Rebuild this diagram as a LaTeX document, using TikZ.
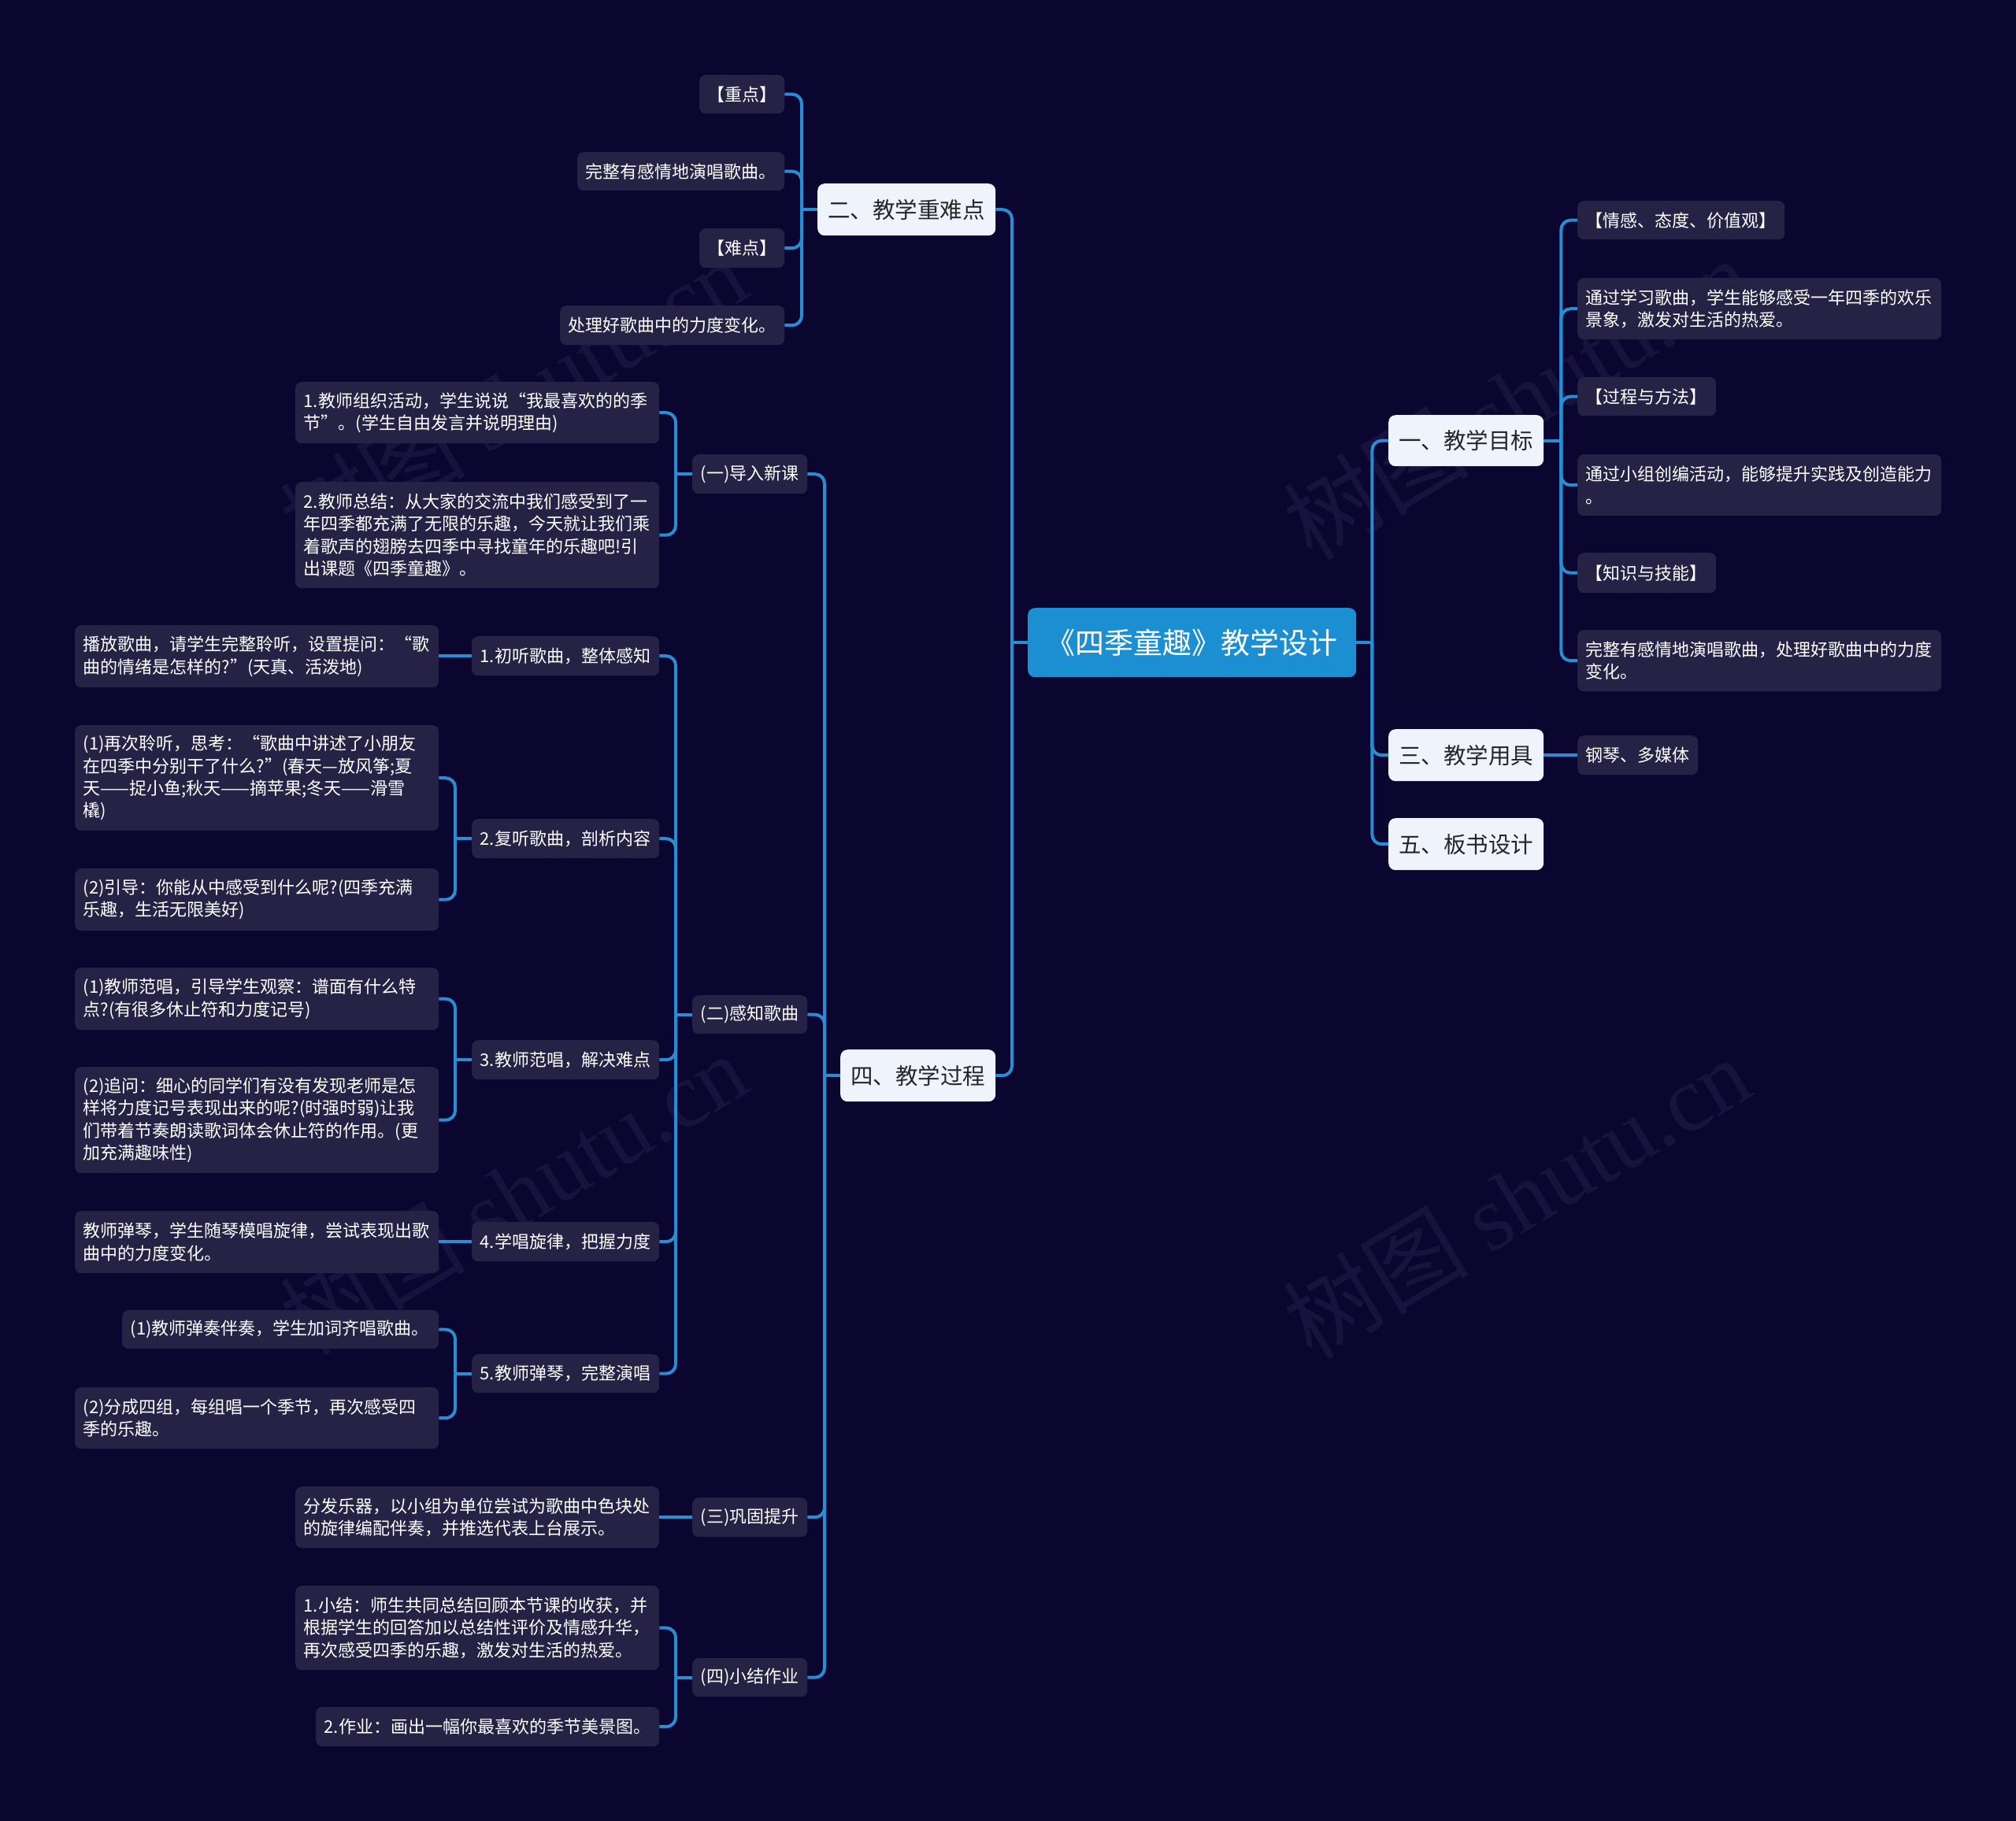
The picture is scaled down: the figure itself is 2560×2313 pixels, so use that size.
\documentclass[tikz,border=0pt]{standalone}
\usepackage{fontspec}
\setmainfont{Noto Sans CJK SC}
\newfontfamily\wmserif{Liberation Serif}
\definecolor{bg}{HTML}{0A0630}
\definecolor{leafc}{HTML}{262246}
\definecolor{lonec}{HTML}{EEF3FC}
\definecolor{rootc}{HTML}{1C8FD2}
\definecolor{linec}{HTML}{2A8DD4}
\definecolor{wmc}{HTML}{16133E}
\tikzset{
  leaf/.style={fill=leafc, rounded corners=8pt, text=white, inner xsep=10.5pt, inner ysep=0pt,
    align=left, font=\fontsize{22}{28.3}\selectfont, anchor=north west},
  lone/.style={fill=lonec, rounded corners=9pt, text=black!85, inner sep=0pt,
    align=center, font=\fontsize{28.5}{34}\selectfont, anchor=north west},
  rootbox/.style={fill=rootc, rounded corners=9pt, text=white, inner sep=0pt,
    align=center, font=\fontsize{37}{44}\selectfont, anchor=north west},
  conn/.style={draw=linec, line width=4pt, rounded corners=12pt},
  wmark/.style={text=wmc, rotate=31, font=\fontsize{118}{130}\selectfont, inner sep=0pt}
}
\newcommand\leafbox[6]{%
  \pgfmathsetmacro\bw{#4-#2}\pgfmathsetmacro\bh{#5-#3}\pgfmathsetmacro\tw{#4-#2-21}%
  \node[leaf, minimum width=\bw pt, minimum height=\bh pt, text width=\tw pt] (#1) at (#2,#3) {#6};}
\newcommand\lonebox[6]{%
  \pgfmathsetmacro\bw{#4-#2}\pgfmathsetmacro\bh{#5-#3}%
  \node[lone, minimum width=\bw pt, minimum height=\bh pt] (#1) at (#2,#3) {#6};}
\begin{document}
\begin{tikzpicture}[x=1pt, y=-1pt]
\useasboundingbox (0,0) rectangle (2560,2313);
\fill[bg] (0,0) rectangle (2560,2313);

% watermarks
\node[wmark] (wm1) at (652,505) {树图 {\wmserif shutu.cn}};
\node[wmark] (wm2) at (1926,505) {树图 {\wmserif shutu.cn}};
\node[wmark] (wm3) at (652,1515) {树图 {\wmserif shutu.cn}};
\node[wmark] (wm4) at (1926,1520) {树图 {\wmserif shutu.cn}};

% root
\node[rootbox, minimum width=417pt, minimum height=88pt] (root) at (1305,772) {《四季童趣》教学设计};

% level 1
\lonebox{n2}{1038}{233}{1264}{299}{二、教学重难点}
\lonebox{n4}{1067}{1333}{1264}{1399}{四、教学过程}
\lonebox{n1}{1763}{527}{1960}{592}{一、教学目标}
\lonebox{n3}{1763}{926}{1960}{992}{三、教学用具}
\lonebox{n5}{1763}{1039}{1960}{1105}{五、板书设计}

% children of n2
\leafbox{k1}{888}{95}{996}{144}{【重点】}
\leafbox{k2}{733}{193}{996}{242}{完整有感情地演唱歌曲。}
\leafbox{k3}{888}{290}{996}{340}{【难点】}
\leafbox{k4}{711}{388}{996}{438}{处理好歌曲中的力度变化。}

% children of n1
\leafbox{g1}{2003}{255}{2266}{304}{【情感、态度、价值观】}
\leafbox{g2}{2003}{353}{2465}{431}{通过学习歌曲，学生能够感受一年四季的欢乐\\景象，激发对生活的热爱。}
\leafbox{g3}{2003}{479}{2179}{528}{【过程与方法】}
\leafbox{g4}{2003}{577}{2465}{655}{通过小组创编活动，能够提升实践及创造能力\\。}
\leafbox{g5}{2003}{702}{2179}{753}{【知识与技能】}
\leafbox{g6}{2003}{800}{2465}{878}{完整有感情地演唱歌曲，处理好歌曲中的力度\\变化。}

% child of n3
\leafbox{t1}{2003}{934}{2156}{984}{钢琴、多媒体}

% children of n4
\leafbox{s1}{879}{577}{1025}{627}{(一)导入新课}
\leafbox{s2}{879}{1264}{1025}{1313}{(二)感知歌曲}
\leafbox{s3}{879}{1902}{1025}{1952}{(三)巩固提升}
\leafbox{s4}{879}{2106}{1025}{2155}{(四)小结作业}

% children of s1
\leafbox{s1a}{375}{485}{837}{563}{1.教师组织活动，学生说说“我最喜欢的的季\\节”。(学生自由发言并说明理由)}
\leafbox{s1b}{375}{612}{837}{747}{2.教师总结：从大家的交流中我们感受到了一\\年四季都充满了无限的乐趣，今天就让我们乘\\着歌声的翅膀去四季中寻找童年的乐趣吧!引\\出课题《四季童趣》。}

% children of s2
\leafbox{p1}{599}{808}{837}{858}{1.初听歌曲，整体感知}
\leafbox{p2}{599}{1040}{837}{1090}{2.复听歌曲，剖析内容}
\leafbox{p3}{599}{1321}{837}{1371}{3.教师范唱，解决难点}
\leafbox{p4}{599}{1552}{837}{1602}{4.学唱旋律，把握力度}
\leafbox{p5}{599}{1720}{837}{1769}{5.教师弹琴，完整演唱}

\leafbox{p1a}{95}{794}{557}{873}{播放歌曲，请学生完整聆听，设置提问：“歌\\曲的情绪是怎样的?”(天真、活泼地)}
\leafbox{p2a}{95}{921}{557}{1055}{(1)再次聆听，思考：“歌曲中讲述了小朋友\\在四季中分别干了什么?”(春天—放风筝;夏\\天——捉小鱼;秋天——摘苹果;冬天——滑雪\\橇)}
\leafbox{p2b}{95}{1103}{557}{1182}{(2)引导：你能从中感受到什么呢?(四季充满\\乐趣，生活无限美好)}
\leafbox{p3a}{95}{1229}{557}{1308}{(1)教师范唱，引导学生观察：谱面有什么特\\点?(有很多休止符和力度记号)}
\leafbox{p3b}{95}{1355}{557}{1490}{(2)追问：细心的同学们有没有发现老师是怎\\样将力度记号表现出来的呢?(时强时弱)让我\\们带着节奏朗读歌词体会休止符的作用。(更\\加充满趣味性)}
\leafbox{p4a}{95}{1538}{557}{1617}{教师弹琴，学生随琴模唱旋律，尝试表现出歌\\曲中的力度变化。}
\leafbox{p5a}{155}{1664}{557}{1713}{(1)教师弹奏伴奏，学生加词齐唱歌曲。}
\leafbox{p5b}{95}{1762}{557}{1840}{(2)分成四组，每组唱一个季节，再次感受四\\季的乐趣。}

% children of s3, s4
\leafbox{s3a}{375}{1888}{837}{1966}{分发乐器，以小组为单位尝试为歌曲中色块处\\的旋律编配伴奏，并推选代表上台展示。}
\leafbox{s4a}{375}{2014}{837}{2121}{1.小结：师生共同总结回顾本节课的收获，并\\根据学生的回答加以总结性评价及情感升华，\\再次感受四季的乐趣，激发对生活的热爱。}
\leafbox{s4b}{401}{2168}{837}{2218}{2.作业：画出一幅你最喜欢的季节美景图。}

% ---------- connectors ----------
% root left
\draw[conn] (root.west) -- ++(-20,0) coordinate (jR);
\draw[conn] (jR) |- (n2.east);
\draw[conn] (jR) |- (n4.east);
% root right
\draw[conn] (root.east) -- ++(20,0) coordinate (jRR);
\draw[conn] (jRR) |- (n1.west);
\draw[conn] (jRR) |- (n3.west);
\draw[conn] (jRR) |- (n5.west);
% n2
\draw[conn] (n2.west) -- ++(-20,0) coordinate (j2);
\foreach \c in {k1,k2,k3,k4} \draw[conn] (j2) |- (\c.east);
% n1
\draw[conn] (n1.east) -- ++(22,0) coordinate (j1);
\foreach \c in {g1,g2,g3,g4,g5,g6} \draw[conn] (j1) |- (\c.west);
% n3
\draw[conn] (n3.east) -- (n3.east -| t1.west);
% n4
\draw[conn] (n4.west) -- ++(-20,0) coordinate (j4);
\foreach \c in {s1,s2,s3,s4} \draw[conn] (j4) |- (\c.east);
% s1
\draw[conn] (s1.west) -- ++(-21,0) coordinate (js1);
\foreach \c in {s1a,s1b} \draw[conn] (js1) |- (\c.east);
% s2
\draw[conn] (s2.west) -- ++(-21,0) coordinate (js2);
\foreach \c in {p1,p2,p3,p4,p5} \draw[conn] (js2) |- (\c.east);
% p1, p4 straight
\draw[conn] (p1.west) -- (p1.west -| p1a.east);
\draw[conn] (p4.west) -- (p4.west -| p4a.east);
% p2
\draw[conn] (p2.west) -- ++(-21,0) coordinate (jp2);
\foreach \c in {p2a,p2b} \draw[conn] (jp2) |- (\c.east);
% p3
\draw[conn] (p3.west) -- ++(-21,0) coordinate (jp3);
\foreach \c in {p3a,p3b} \draw[conn] (jp3) |- (\c.east);
% p5
\draw[conn] (p5.west) -- ++(-21,0) coordinate (jp5);
\foreach \c in {p5a,p5b} \draw[conn] (jp5) |- (\c.east);
% s3
\draw[conn] (s3.west) -- (s3.west -| s3a.east);
% s4
\draw[conn] (s4.west) -- ++(-21,0) coordinate (js4);
\foreach \c in {s4a,s4b} \draw[conn] (js4) |- (\c.east);
\end{tikzpicture}
\end{document}
